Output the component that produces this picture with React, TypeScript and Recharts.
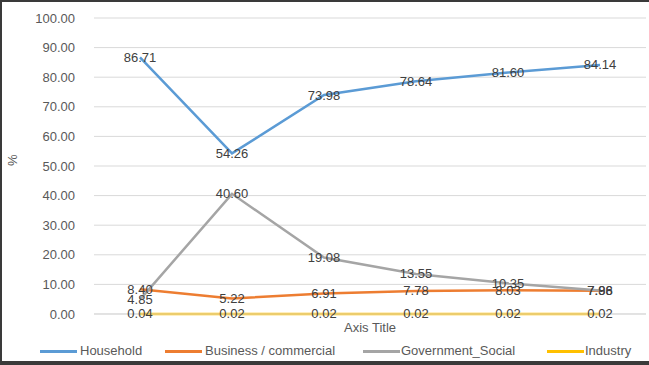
import React from 'react';
import { LineChart, Line, XAxis, YAxis, CartesianGrid, LabelList } from 'recharts';

const categories = ['1', '2', '3', '4', '5', '6'];
const household = [86.71, 54.26, 73.98, 78.64, 81.6, 84.14];
const business = [8.4, 5.22, 6.91, 7.78, 8.03, 7.86];
const government = [4.85, 40.6, 19.08, 13.55, 10.35, 7.98];
const industry = [0.04, 0.02, 0.02, 0.02, 0.02, 0.02];
const yTicks = [0, 10, 20, 30, 40, 50, 60, 70, 80, 90, 100];

const seriesNames = ['Household', 'Business / commercial', 'Government_Social', 'Industry'];
const seriesKeys = ['household', 'business', 'government', 'industry'];
const seriesColors = ['#5B9BD5', '#ED7D31', '#A5A5A5', '#FFC000'];
const showLabels = [true, true, true, true];

const data = categories.map((c, i) => ({
  name: c,
  household: household[i],
  business: business[i],
  government: government[i],
  industry: industry[i],
}));

const FONT = '"Liberation Sans", Arial, sans-serif';

const renderLabel = (props: any) => {
  const { x, y, value, index } = props;
  if (x == null || y == null) return null;
  return (
    <text
      key={index}
      x={x}
      y={y}
      textAnchor="middle"
      dominantBaseline="central"
      fontSize={13}
      fontFamily={FONT}
      fill="#404040"
    >
      {Number(value).toFixed(2)}
    </text>
  );
};

const legendPos = [
  { line: 40, text: 80 },
  { line: 165, text: 205 },
  { line: 363, text: 401 },
  { line: 547, text: 585 },
];

export default function App() {
  return (
    <div
      style={{
        position: 'fixed',
        left: 0,
        top: 0,
        width: 649,
        height: 365,
        background: '#fff',
        boxSizing: 'border-box',
        borderTop: '2px solid #3a3a3a',
        borderLeft: '2px solid #3a3a3a',
        borderBottom: '4px solid #3a3a3a',
        overflow: 'hidden',
      }}
    >
      <div style={{ position: 'absolute', left: -2, top: -2 }}>
        <LineChart
          width={649}
          height={365}
          data={data}
          margin={{ top: 18, right: 3, bottom: 21, left: 0 }}
        >
          <CartesianGrid vertical={false} stroke="#D9D9D9" />
          <XAxis
            dataKey="name"
            tick={false}
            tickLine={false}
            axisLine={{ stroke: '#D9D9D9' }}
            height={30}
            padding={{ left: 46, right: 46 }}
            label={{
              value: 'Axis Title',
              position: 'insideTop',
              offset: 9,
              fill: '#595959',
              fontSize: 13,
              fontFamily: FONT,
            }}
          />
          <YAxis
            domain={[0, 100]}
            ticks={yTicks}
            width={94}
            tickLine={false}
            axisLine={false}
            tickSize={0}
            tickMargin={19}
            tickFormatter={(v: number) => v.toFixed(2)}
            tick={{ fill: '#595959', fontSize: 13, fontFamily: FONT }}
            label={{
              value: '%',
              angle: -90,
              position: 'insideLeft',
              offset: 12,
              fill: '#595959',
              fontSize: 13,
              fontFamily: FONT,
            }}
          />
          {seriesKeys.map((k, i) => (
            <Line
              key={k}
              type="linear"
              dataKey={k}
              name={seriesNames[i]}
              stroke={seriesColors[i]}
              strokeWidth={2.5}
              dot={false}
              activeDot={false}
              isAnimationActive={false}
            >
              {showLabels[i] && <LabelList dataKey={k} content={renderLabel} />}
            </Line>
          ))}
        </LineChart>
      </div>
      {seriesNames.map((n, i) => (
        <div key={n}>
          <div
            style={{
              position: 'absolute',
              left: legendPos[i].line - 2,
              top: 350 - 2,
              width: 37,
              height: 3,
              background: seriesColors[i],
            }}
          />
          <div
            style={{
              position: 'absolute',
              left: legendPos[i].text - 2,
              top: 342 - 2,
              fontFamily: FONT,
              fontSize: 13,
              color: '#595959',
              whiteSpace: 'nowrap',
              lineHeight: '18px',
            }}
          >
            {n}
          </div>
        </div>
      ))}
    </div>
  );
}
